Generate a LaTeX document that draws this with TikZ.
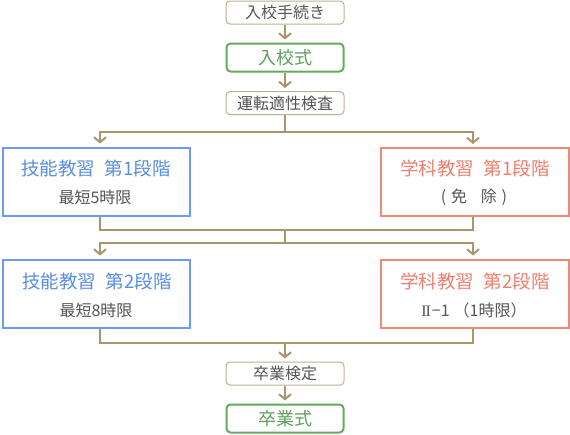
\documentclass[tikz,border=0pt]{standalone}
\usepackage{fontspec}
\setmainfont{Noto Sans CJK JP}
\newfontfamily\romanfont{Liberation Serif}
\usetikzlibrary{arrows.meta,calc}
\definecolor{conn}{HTML}{A8976A}
\definecolor{plainb}{HTML}{BFB091}
\definecolor{txt}{HTML}{555555}
\definecolor{grn}{HTML}{66AA60}
\definecolor{grnt}{HTML}{5FA05A}
\definecolor{blu}{HTML}{6A9BEF}
\definecolor{blut}{HTML}{5A8EE0}
\definecolor{sal}{HTML}{EE8877}
\definecolor{salt}{HTML}{EE7F6E}
\tikzset{
  conline/.style={draw=conn,line width=2pt,line join=miter},
  arr/.style={-{Straight Barb[length=5pt,width=12pt,line width=2pt]},shorten >=3pt},
  smallbox/.style={draw=plainb,line width=1pt,rounded corners=4pt,fill=white,
    minimum width=118pt,minimum height=23pt,inner sep=0pt,text=txt,
    font=\fontsize{16}{17}\selectfont},
  greenbox/.style={draw=grn,line width=2pt,rounded corners=4pt,fill=white,
    minimum width=117pt,minimum height=28pt,inner sep=0pt,text=grnt,
    font=\fontsize{18}{20}\selectfont},
  bluebox/.style={draw=blu,line width=2pt,fill=white,minimum width=187pt,
    minimum height=68pt,inner sep=0pt},
  salbox/.style={draw=sal,line width=2pt,fill=white,minimum width=188pt,
    minimum height=68pt,inner sep=0pt},
  titleb/.style={text=blut,font=\fontsize{18.5}{20}\selectfont,inner sep=0pt},
  titles/.style={text=salt,font=\fontsize{18.5}{20}\selectfont,inner sep=0pt},
  subt/.style={text=txt,font=\fontsize{16}{17}\selectfont,inner sep=0pt},
}
\begin{document}
\begin{tikzpicture}[x=1pt,y=-1pt]
\useasboundingbox[fill=white] (0,0) rectangle (570,434);
% nodes
\node[smallbox] (b1) at (285,12.5) {入校手続き};
\node[greenbox] (b2) at (285,57.5) {入校式};
\node[smallbox] (b3) at (285,103) {運転適性検査};
\node[bluebox] (L1) at (96,181.5) {};
\node[titleb] (L1t) at (96,168) {技能教習\hspace{0.5em}第1段階};
\node[subt] (L1s) at (95,197.5) {最短5時限};
\node[salbox] (R1) at (474.5,182) {};
\node[titles] (R1t) at (475,168) {学科教習\hspace{0.5em}第1段階};
\node[subt] (R1s) at (474,197.5) {(\hspace{0.3em}免\hspace{0.85em}除\hspace{0.3em})};
\node[bluebox] (L2) at (96.5,293.5) {};
\node[titleb] (L2t) at (97,281) {技能教習\hspace{0.5em}第2段階};
\node[subt] (L2s) at (96,310.5) {最短8時限};
\node[salbox] (R2) at (474.5,293.5) {};
\node[titles] (R2t) at (475,281) {学科教習\hspace{0.5em}第2段階};
\node[subt] (R2s) at (474,310.5) {{\romanfont I\kern-1.2ptI}\kern1pt−1\hspace{0.25em}（1時限）};
\node[smallbox] (b4) at (285,373.5) {卒業検定};
\node[greenbox] (b5) at (285,418.5) {卒業式};
% junction coordinates
\coordinate (jl1) at (100,132);
\coordinate (jr1) at (473,132);
\coordinate (jl2) at (100,230);
\coordinate (jr2) at (473,230);
\coordinate (m2) at (285,230);
\coordinate (jl3) at (100,243);
\coordinate (jr3) at (473,243);
\coordinate (jl4) at (100,343);
\coordinate (jr4) at (473,343);
\coordinate (m4) at (285,343);
% connectors
\draw[conline,arr] (b1.south) -- (b2.north);
\draw[conline,arr] (b2.south) -- (b3.north);
\draw[conline,arr] (b3.south) |- (jl1) -- (jl1 |- L1.north);
\draw[conline,arr] (b3.south) |- (jr1) -- (jr1 |- R1.north);
\draw[conline] (L1.south -| jl2) -- (jl2) -- (jr2) -- (R1.south -| jr2);
\draw[conline,arr] (m2) |- (jl3) -- (jl3 |- L2.north);
\draw[conline,arr] (m2) |- (jr3) -- (jr3 |- R2.north);
\draw[conline] (L2.south -| jl4) -- (jl4) -- (jr4) -- (R2.south -| jr4);
\draw[conline,arr] (m4) -- (b4.north);
\draw[conline,arr] (b4.south) -- (b5.north);
\end{tikzpicture}
\end{document}
